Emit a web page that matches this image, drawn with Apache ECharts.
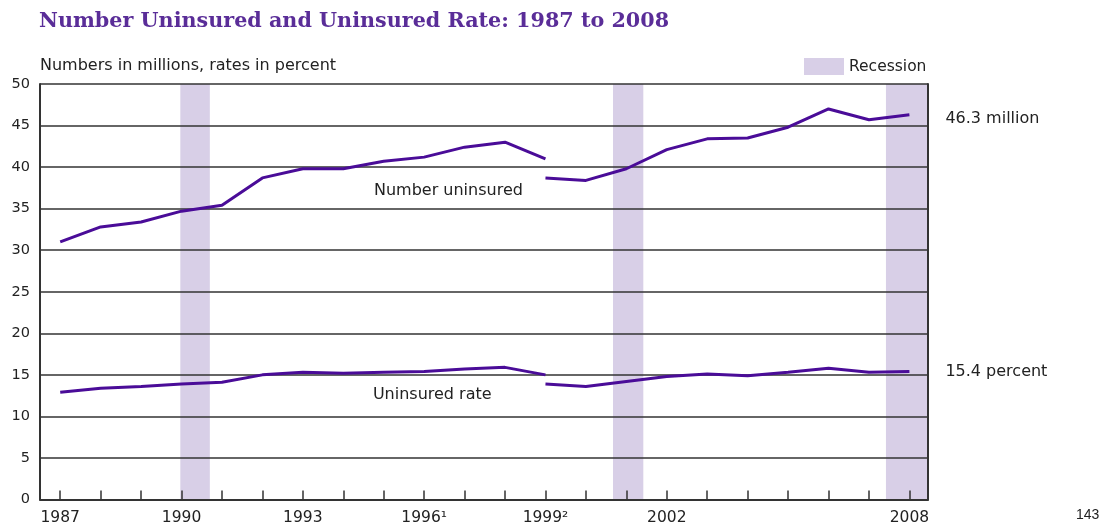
<!DOCTYPE html>
<html><head><meta charset="utf-8">
<script src="https://cdn.jsdelivr.net/npm/echarts@6/dist/echarts.min.js"></script>
<style>html,body{margin:0;padding:0;background:#fff}#c{width:1104px;height:526px}</style>
</head><body><div id="c"></div>
<script>
// ---- data ----
const yearsOld = [1987,1988,1989,1990,1991,1992,1993,1994,1995,1996,1997,1998,1999];
const uninsuredOld = [31.0,32.8,33.4,34.7,35.4,38.7,39.8,39.8,40.7,41.2,42.4,43.0,41.0];
const rateOld = [12.9,13.4,13.6,13.9,14.1,15.0,15.3,15.2,15.3,15.4,15.7,15.9,15.0];
const yearsNew = [1999,2000,2001,2002,2003,2004,2005,2006,2007,2008];
const uninsuredNew = [38.7,38.4,39.8,42.1,43.4,43.5,44.8,47.0,45.7,46.3];
const rateNew = [13.9,13.6,14.2,14.8,15.1,14.9,15.3,15.8,15.3,15.4];
const tickYears = [1987,1988,1989,1990,1991,1992,1993,1994,1995,1996,1997,1998,1999,2000,2001,2002,2003,2004,2005,2006,2007,2008];
const labelYears = [1987,1990,1993,1996,1999,2002,2008];
const labelTexts = ['1987','1990','1993','1996\u00B9','1999\u00B2','2002','2008'];
const recessions = [[1989.97,1990.7],[2000.67,2001.42],[2007.42,2008.46]];

const pair = (xs, ys) => xs.map((x,i)=>[x, ys[i]]);
const purple = '#4a0c98';
const band = '#d8cfe7';
const font = 'DejaVu Sans';

const lineBase = {
  type:'line', symbol:'none', smooth:false, z:5,
  lineStyle:{color:purple, width:3}, itemStyle:{color:purple},
  silent:true
};

const chart = echarts.init(document.getElementById('c'), null, {renderer:'canvas'});
chart.setOption({
  animation:false,
  backgroundColor:'#fff',
  title:{
    text:'Number Uninsured and Uninsured Rate: 1987 to 2008',
    left:34, top:6,
    textStyle:{fontFamily:'DejaVu Serif', fontWeight:'bold', fontSize:20.7, color:'#5a2d98'}
  },
  legend:{
    data:['Recession'], left:799, top:53, itemWidth:40, itemHeight:17, itemGap:8,
    icon:'rect', selectedMode:false,
    textStyle:{fontFamily:font, fontSize:15.5, color:'#222'}
  },
  graphic:[
    {type:'text', left:40, top:58, style:{text:'Numbers in millions, rates in percent', fontFamily:font, fontSize:16, fill:'#222'}},
    {type:'text', left:1076, top:508, style:{text:'143', fontFamily:'Liberation Sans', fontSize:14, fill:'#222'}}
  ],
  grid:{left:40, right:176, top:84, bottom:26.5, containLabel:false},
  xAxis:{
    type:'value', min:1986.5, max:2008.46, z:4,
    axisLine:{show:true, lineStyle:{color:'#333', width:2}},
    axisTick:{show:true, inside:true, length:9, customValues:tickYears, lineStyle:{color:'#333', width:1.5}},
    axisLabel:{customValues:labelYears, margin:10, fontFamily:font, fontSize:15.5, color:'#222',
      formatter:(v)=>{const i=labelYears.indexOf(Math.round(v)); return i>=0?labelTexts[i]:'';}},
    splitLine:{show:false}
  },
  yAxis:[{
    type:'value', min:0, max:50, interval:5, z:4,
    axisLine:{show:true, lineStyle:{color:'#333', width:2}},
    axisTick:{show:false},
    axisLabel:{margin:10, fontFamily:font, fontSize:14.5, color:'#222'},
    splitLine:{show:true, lineStyle:{color:'#333', width:1.5}}
  },{
    type:'value', min:0, max:50, interval:5, position:'right', z:4,
    axisLine:{show:true, lineStyle:{color:'#333', width:2}},
    axisTick:{show:false}, axisLabel:{show:false}, splitLine:{show:false}
  }],
  series:[
    {
      name:'Recession', type:'bar', data:[], z:1,
      itemStyle:{color:band},
      markArea:{silent:true, itemStyle:{color:band, opacity:1},
        data: recessions.map(r=>[{xAxis:r[0]},{xAxis:r[1]}])}
    },
    Object.assign({}, lineBase, {name:'Number uninsured (old)', data:pair(yearsOld, uninsuredOld),
      markPoint:{symbol:'circle', symbolSize:0, silent:true,
        label:{show:true, position:'inside', formatter:'Number uninsured', fontFamily:font, fontSize:16, color:'#222'},
        data:[{coord:[1996.6, 37.2]}]}}),
    Object.assign({}, lineBase, {name:'Number uninsured', data:pair(yearsNew, uninsuredNew),
      endLabel:{show:true, formatter:(p)=>p.value[1].toFixed(1)+' million', distance:36, offset:[0,4], fontFamily:font, fontSize:16, color:'#222'}}),
    Object.assign({}, lineBase, {name:'Uninsured rate (old)', data:pair(yearsOld, rateOld),
      markPoint:{symbol:'circle', symbolSize:0, silent:true,
        label:{show:true, position:'inside', formatter:'Uninsured rate', fontFamily:font, fontSize:16, color:'#222'},
        data:[{coord:[1996.2, 12.6]}]}}),
    Object.assign({}, lineBase, {name:'Uninsured rate', data:pair(yearsNew, rateNew),
      endLabel:{show:true, formatter:(p)=>p.value[1].toFixed(1)+' percent', distance:36, fontFamily:font, fontSize:16, color:'#222'}})
  ]
});
</script></body></html>
